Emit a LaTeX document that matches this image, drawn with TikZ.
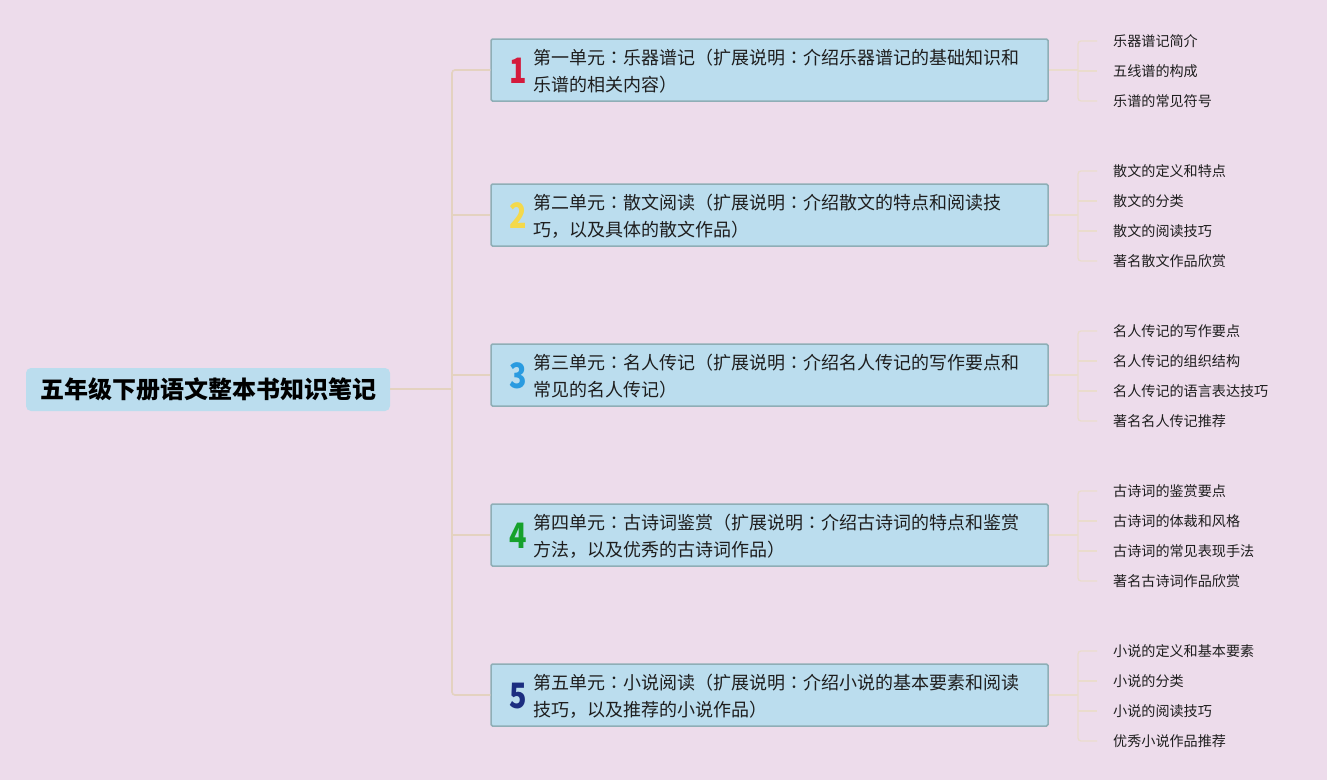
\documentclass[tikz,border=0pt]{standalone}
\usepackage{fontspec}
\setmainfont{Noto Sans CJK SC}
\newfontfamily\tcfont{Noto Sans CJK TC}
\newcommand{\cc}{{\tcfont ：}}
\definecolor{bgc}{HTML}{EDDCEB}
\definecolor{boxfill}{HTML}{BBDDEE}
\definecolor{boxline}{HTML}{8FAEB6}
\definecolor{conn}{HTML}{E4D2C0}
\definecolor{leafconn}{HTML}{EADCCD}
\definecolor{txt}{HTML}{1E1E1E}
\definecolor{n1}{HTML}{D41A3C}
\definecolor{n2}{HTML}{F4D94C}
\definecolor{n3}{HTML}{2A9BE0}
\definecolor{n4}{HTML}{16A12C}
\definecolor{n5}{HTML}{1B2D80}
\tikzset{
  rootbox/.style={fill=boxfill, rounded corners=5pt, minimum width=364pt, minimum height=43pt, inner sep=0pt, font=\fontsize{24}{28}\selectfont\bfseries, text=black},
  unitbox/.style={fill=boxfill, draw=boxline, line width=1.5pt, rounded corners=1.5pt, minimum width=557pt, minimum height=62pt, inner sep=0pt},
  unittext/.style={anchor=west, align=left, inner sep=0pt, font=\fontsize{18}{27}\selectfont, text=txt},
  numtext/.style={inner sep=0pt, font=\fontsize{35}{36}\selectfont\bfseries},
  leaftext/.style={anchor=west, inner sep=0pt, font=\fontsize{14.1}{16}\selectfont, text=txt},
  mainline/.style={draw=conn, line width=1.6pt, rounded corners=3pt},
  leafline/.style={draw=leafconn, line width=1.3pt, rounded corners=3pt},
}
\newcommand{\dig}[1]{\scalebox{0.82}[1]{#1}}
\begin{document}
\begin{tikzpicture}[x=1pt,y=-1pt]
\fill[bgc] (0,0) rectangle (1327,780);
\useasboundingbox (0,0) rectangle (1327,780);

% root
\node[rootbox] (root) at (208,389.5) {五年级下册语文整本书知识笔记};
\coordinate (trunk) at (452,389);

% units
\node[unitbox] (u1) at (769.5,70) {};
\node[unitbox] (u2) at (769.5,215) {};
\node[unitbox] (u3) at (769.5,375) {};
\node[unitbox] (u4) at (769.5,535) {};
\node[unitbox] (u5) at (769.5,695) {};

\node[numtext, text=n1] (k1) at (518,71) {\dig{1}};
\node[numtext, text=n2] (k2) at (518,216) {\dig{2}};
\node[numtext, text=n3] (k3) at (518,376) {\dig{3}};
\node[numtext, text=n4] (k4) at (518,536) {\dig{4}};
\node[numtext, text=n5] (k5) at (518,696) {\dig{5}};

\node[unittext] (t1) at (533,71) {第一单元\cc 乐器谱记（扩展说明\cc 介绍乐器谱记的基础知识和\\乐谱的相关内容）};
\node[unittext] (t2) at (533,216) {第二单元\cc 散文阅读（扩展说明\cc 介绍散文的特点和阅读技\\巧，以及具体的散文作品）};
\node[unittext] (t3) at (533,376) {第三单元\cc 名人传记（扩展说明\cc 介绍名人传记的写作要点和\\常见的名人传记）};
\node[unittext] (t4) at (533,536) {第四单元\cc 古诗词鉴赏（扩展说明\cc 介绍古诗词的特点和鉴赏\\方法，以及优秀的古诗词作品）};
\node[unittext] (t5) at (533,696) {第五单元\cc 小说阅读（扩展说明\cc 介绍小说的基本要素和阅读\\技巧，以及推荐的小说作品）};

% main connectors
\draw[mainline] (root.east |- trunk) -- (trunk);
\draw[mainline] (u1.west) -| (trunk) |- (u5.west);
\draw[mainline] (trunk |- u2.west) -- (u2.west);
\draw[mainline] (trunk |- u3.west) -- (u3.west);
\draw[mainline] (trunk |- u4.west) -- (u4.west);

% leaves
\newcommand{\leafgroup}[3]{% unit name, first y, list
  \coordinate (#1j) at (1078,0);
  \draw[leafline] (#1.east) -- (#1j |- #1.east);
  \foreach \txt [count=\i] in {#3} {
    \pgfmathsetmacro{\yy}{#2+30*(\i-1)}
    \node[leaftext] (#1l\i) at (1113,\yy) {\txt};
    \coordinate (#1s\i) at (1097,\yy);
  }
}
\leafgroup{u1}{41}{乐器谱记简介,五线谱的构成,乐谱的常见符号}
\draw[leafline] (u1s1) -- (u1j |- u1s1) -- (u1j |- u1s3) -- (u1s3);
\draw[leafline] (u1j |- u1s2) -- (u1s2);

\leafgroup{u2}{171}{散文的定义和特点,散文的分类,散文的阅读技巧,著名散文作品欣赏}
\draw[leafline] (u2s1) -- (u2j |- u2s1) -- (u2j |- u2s4) -- (u2s4);
\draw[leafline] (u2j |- u2s2) -- (u2s2);
\draw[leafline] (u2j |- u2s3) -- (u2s3);

\leafgroup{u3}{331}{名人传记的写作要点,名人传记的组织结构,名人传记的语言表达技巧,著名名人传记推荐}
\draw[leafline] (u3s1) -- (u3j |- u3s1) -- (u3j |- u3s4) -- (u3s4);
\draw[leafline] (u3j |- u3s2) -- (u3s2);
\draw[leafline] (u3j |- u3s3) -- (u3s3);

\leafgroup{u4}{491}{古诗词的鉴赏要点,古诗词的体裁和风格,古诗词的常见表现手法,著名古诗词作品欣赏}
\draw[leafline] (u4s1) -- (u4j |- u4s1) -- (u4j |- u4s4) -- (u4s4);
\draw[leafline] (u4j |- u4s2) -- (u4s2);
\draw[leafline] (u4j |- u4s3) -- (u4s3);

\leafgroup{u5}{651}{小说的定义和基本要素,小说的分类,小说的阅读技巧,优秀小说作品推荐}
\draw[leafline] (u5s1) -- (u5j |- u5s1) -- (u5j |- u5s4) -- (u5s4);
\draw[leafline] (u5j |- u5s2) -- (u5s2);
\draw[leafline] (u5j |- u5s3) -- (u5s3);
\end{tikzpicture}
\end{document}
